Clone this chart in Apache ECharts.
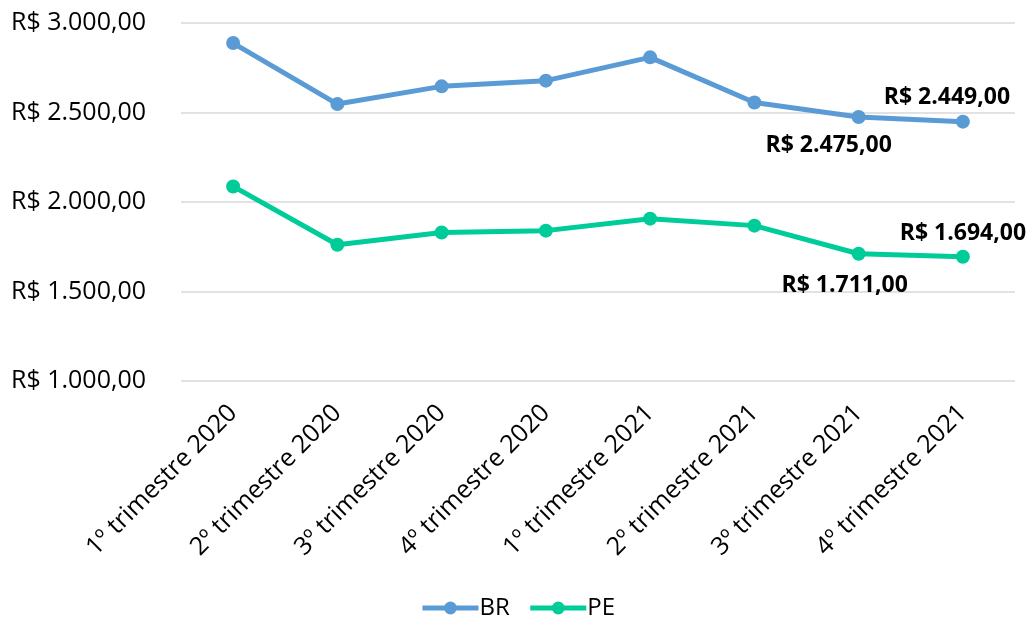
<!DOCTYPE html>
<html>
<head>
<meta charset="utf-8">
<script src="https://cdn.jsdelivr.net/npm/echarts@6/dist/echarts.min.js"></script>
<style>
  html, body { margin: 0; padding: 0; background: #fff; }
  #chart { width: 1035px; height: 628px; }
</style>
</head>
<body>
<div id="chart"></div>
<script>
// Quarterly values per region
const categories = [
  '1º trimestre 2020', '2º trimestre 2020', '3º trimestre 2020', '4º trimestre 2020',
  '1º trimestre 2021', '2º trimestre 2021', '3º trimestre 2021', '4º trimestre 2021'
];
const brValues = [2888, 2547, 2646, 2678, 2808, 2556, 2475, 2449];
const peValues = [2087, 1761, 1830, 1840, 1907, 1868, 1711, 1694];
const yTicks = [1000, 1500, 2000, 2500, 3000];

// Brazilian currency format: R$ 2.449,00
function brl(v) {
  const parts = Number(v).toFixed(2).split('.');
  const int = parts[0].replace(/\B(?=(\d{3})+(?!\d))/g, '.');
  return 'R$ ' + int + ',' + parts[1];
}

const FONT = 'Open Sans';
const labelStyle = { show: true, fontFamily: FONT, fontSize: 23, fontWeight: 'bold', color: '#000', formatter: p => brl(p.value) };

// Only the last two quarters carry value labels
function withLabels(values, placements) {
  return values.map((v, i) => {
    const pl = placements[i];
    if (!pl) return v;
    return { value: v, label: Object.assign({}, labelStyle, pl) };
  });
}

const brData = withLabels(brValues, {
  6: { position: 'bottom', offset: [-30, 5] },
  7: { position: 'top', offset: [-16, -1] }
});
const peData = withLabels(peValues, {
  6: { position: 'bottom', offset: [-14, 8] },
  7: { position: 'top', offset: [0, 0] }
});

const chart = echarts.init(document.getElementById('chart'), null, { renderer: 'canvas' });
chart.setOption({
  animation: false,
  backgroundColor: '#fff',
  textStyle: { fontFamily: FONT },
  grid: { left: 181, right: 20, top: 23, bottom: 247 },
  legend: {
    bottom: 3,
    left: 'center',
    itemWidth: 56,
    itemHeight: 16,
    itemGap: 18,
    lineStyle: { width: 5 },
    textStyle: { fontFamily: FONT, fontSize: 24, color: '#000', padding: [0, 0, 0, -4] },
    data: ['BR', 'PE']
  },
  xAxis: {
    type: 'category',
    data: categories,
    boundaryGap: true,
    axisLine: { show: false },
    axisTick: { show: false },
    axisLabel: { rotate: 45, margin: 28, fontFamily: FONT, fontSize: 25, color: '#000', interval: 0 }
  },
  yAxis: {
    type: 'value',
    min: yTicks[0],
    max: yTicks[yTicks.length - 1],
    interval: 500,
    axisLine: { show: false },
    axisTick: { show: false },
    splitLine: { lineStyle: { color: '#d9d9d9', width: 1.5 } },
    axisLabel: { margin: 35, fontFamily: FONT, fontSize: 25, color: '#000', formatter: v => brl(v) }
  },
  series: [
    {
      name: 'BR', type: 'line', data: brData,
      symbol: 'circle', symbolSize: 14,
      lineStyle: { color: '#5B9BD5', width: 5 },
      itemStyle: { color: '#5B9BD5' }
    },
    {
      name: 'PE', type: 'line', data: peData,
      symbol: 'circle', symbolSize: 14,
      lineStyle: { color: '#00CC99', width: 5 },
      itemStyle: { color: '#00CC99' }
    }
  ]
});
</script>
</body>
</html>
